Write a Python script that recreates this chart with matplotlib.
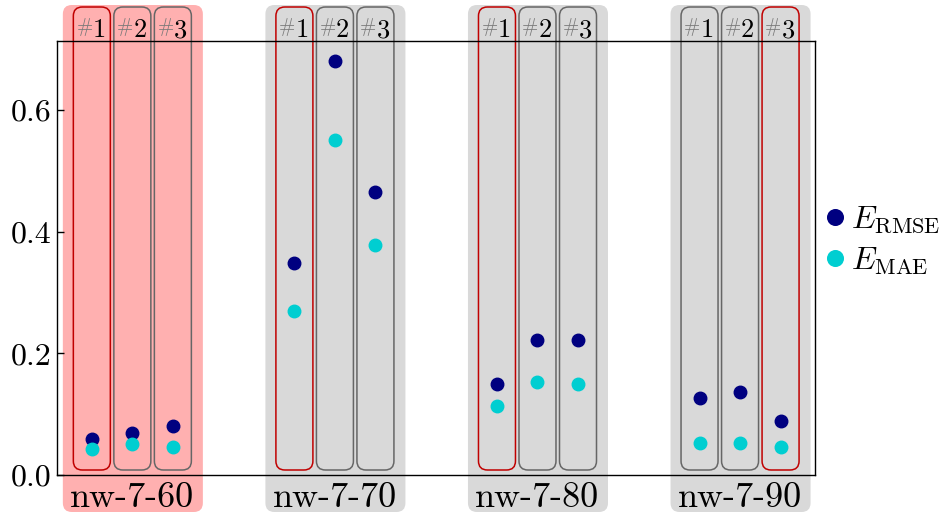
import numpy as np
import matplotlib
matplotlib.use("Agg")
import matplotlib.pyplot as plt
from matplotlib.patches import FancyBboxPatch

plt.rcParams['font.family'] = 'cmr10'
plt.rcParams['mathtext.fontset'] = 'cm'
plt.rcParams['axes.formatter.use_mathtext'] = True

# errors per dataset (rows) and run (columns)
datasets = ['nw-7-60', 'nw-7-70', 'nw-7-80', 'nw-7-90']
runs = ['1', '2', '3']
rmse = [[0.059, 0.069, 0.080],
        [0.348, 0.681, 0.465],
        [0.150, 0.222, 0.222],
        [0.127, 0.136, 0.089]]
mae = [[0.043, 0.051, 0.046],
       [0.270, 0.551, 0.378],
       [0.113, 0.153, 0.150],
       [0.052, 0.052, 0.046]]
best_run = [0, 0, 0, 2]
best_dataset = 0
yticks = [0.0, 0.2, 0.4, 0.6]

c_rmse = '#000080'
c_mae = '#00ced1'
bg_best = '#ffb0b0'
bg_other = '#d9d9d9'
edge_best = '#c00000'
edge_other = '#666666'

fig = plt.figure(figsize=(9.52, 5.13), dpi=100)
W, H = 952, 513
ax = fig.add_axes([57 / W, (H - 475) / H, (815 - 57) / W, (475 - 41) / H])
ax.set_xlim(-0.86, 17.85)
ax.set_ylim(0, 0.7135)

bb = ax.get_window_extent()
px_x = bb.width / (17.85 + 0.86)
px_y = bb.height / 0.7135
asp = px_x / px_y


def rbox(x0, x1, y0, y1, r, **kw):
    p = FancyBboxPatch((x0, y0), x1 - x0, y1 - y0,
                       boxstyle=f"round,pad=0,rounding_size={r / px_x}",
                       mutation_aspect=asp, clip_on=False, **kw)
    ax.add_patch(p)


gap = 5
for g, name in enumerate(datasets):
    xs = np.arange(len(runs)) + g * gap
    # dataset background
    rbox(xs[0] - 29 / px_x, xs[-1] + 30 / px_x, -37 / px_y, 470 / px_y, 9,
         facecolor=bg_best if g == best_dataset else bg_other,
         edgecolor='none', zorder=0.5)
    ax.text(xs[1], -32 / px_y, name, ha='center', va='baseline', fontsize=26)
    for j, x in enumerate(xs):
        rbox(x - 18.5 / px_x, x + 18.5 / px_x, 5 / px_y, 468 / px_y, 9,
             facecolor='none', linewidth=1.1,
             edgecolor=edge_best if j == best_run[g] else edge_other, zorder=1)
        ax.text(x + 1 / px_x, 443 / px_y, '#', ha='right', va='baseline',
                fontsize=14, color='#777777')
        ax.text(x + 1 / px_x, 438 / px_y, runs[j], ha='left', va='baseline',
                fontsize=19)
    ax.plot(xs, rmse[g], 'o', color=c_rmse, markersize=9, zorder=3,
            label=r'$E_\mathrm{RMSE}$' if g == 0 else None)
    ax.plot(xs, mae[g], 'o', color=c_mae, markersize=9, zorder=3,
            label=r'$E_\mathrm{MAE}$' if g == 0 else None)

ax.set_xticks([])
ax.set_yticks(yticks)
ax.set_yticklabels([f'{v:.1f}' for v in yticks])
ax.tick_params(axis='y', direction='in', length=5, width=1, labelsize=23, pad=4)
for s in ax.spines.values():
    s.set_linewidth(1.0)
    s.set_zorder(2)
ax.patch.set_alpha(0)

ax.legend(loc='center left', bbox_to_anchor=(0.99, 0.54), frameon=False,
          fontsize=23, handlelength=0.5, handletextpad=0.25, labelspacing=0.3,
          borderaxespad=0.2, markerscale=1.25)

fig.savefig('out.png', dpi=100)
